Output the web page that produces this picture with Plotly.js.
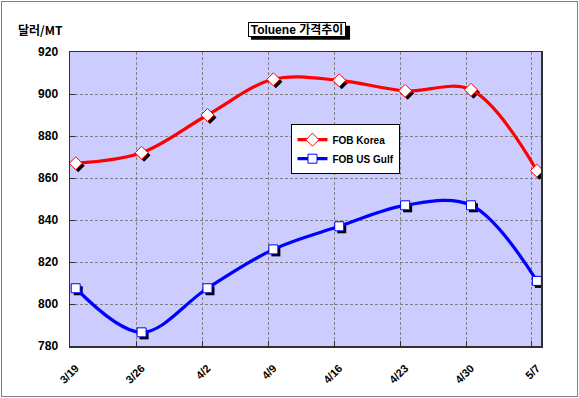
<!DOCTYPE html>
<html><head><meta charset="utf-8">
<script src="https://cdn.plot.ly/plotly-3.0.1.min.js"></script>
<style>
html,body{margin:0;padding:0;background:#fff;}
#wrap{position:relative;width:579px;height:398px;}
#chart{width:579px;height:398px;}
#frame{position:absolute;left:1px;top:1px;width:575px;height:394px;border:1px solid #808080;pointer-events:none;}
</style></head>
<body><div id="wrap"><div id="chart"></div><div id="frame"></div></div>
<script>
const categories = ['3/19','3/26','4/2','4/9','4/16','4/23','4/30','5/7'];
const fobKorea = [867, 872, 890, 907, 906.5, 901.5, 902, 863.5];
const fobUSGulf = [807.5, 786.5, 807.5, 826, 837, 847, 847, 811];
const seriesNames = ['FOB Korea', 'FOB US Gulf'];
const titleText = 'Toluene 가격추이';
const yTitle = '달러/MT';

const FONT = 'Arial, "Liberation Sans", "Noto Sans CJK KR", sans-serif';
const L = 70.3, R = 540.7, T = 52.3, B = 346.3, W = 579, H = 398;
const pxPerCat = 65.8;
const firstPx = 76 - L;
const xr0 = -firstPx / pxPerCat;
const xr1 = xr0 + (R - L) / pxPerCat;
const yr = [780, 920];
const pxPerY = (B - T) / (yr[1] - yr[0]);
const sh = 2.5;      // marker shadow offset, px
const gridShift = 5; // vertical gridlines sit ~5px left of the markers
const px2x = p => (p - L) / (R - L);
const px2y = p => (B - p) / (B - T);
const GRIDDASH = '3px,2px';

const idx = categories.map((c, i) => i);
// base x axis is shifted for the shadows; gridline positions expressed in its units
const gridVals = idx.map(i => i - (gridShift + sh) / pxPerCat);

const traces = [
  // marker shadows on the base axes (ranges shifted so they fall down-right)
  {x: idx, y: fobKorea, xaxis: 'x', yaxis: 'y', mode: 'markers', showlegend: false, hoverinfo: 'skip',
   marker: {symbol: 'diamond', size: 10, color: '#000', line: {width: 0}}},
  {x: idx, y: fobUSGulf, xaxis: 'x', yaxis: 'y', mode: 'markers', showlegend: false, hoverinfo: 'skip',
   marker: {symbol: 'square', size: 9, color: '#000', line: {width: 0}}},
  {x: idx, y: fobKorea, xaxis: 'x2', yaxis: 'y2', name: seriesNames[0], mode: 'lines+markers',
   line: {color: '#FF0000', width: 3.2, shape: 'spline', smoothing: 1},
   marker: {symbol: 'diamond', size: 10, color: '#FFFFFF', line: {color: '#FF0000', width: 1}}},
  {x: idx, y: fobUSGulf, xaxis: 'x2', yaxis: 'y2', name: seriesNames[1], mode: 'lines+markers',
   line: {color: '#0000FF', width: 3.2, shape: 'spline', smoothing: 1},
   marker: {symbol: 'square', size: 9, color: '#FFFFFF', line: {color: '#0000FF', width: 1}}},
];

const layout = {
  width: W, height: H,
  margin: {l: L, r: W - R, t: T, b: H - B, pad: 0},
  paper_bgcolor: '#FFFFFF',
  plot_bgcolor: '#CCCCFF',
  font: {family: FONT, size: 11, color: '#000'},
  showlegend: true,
  legend: {x: px2x(291.5), y: px2y(124.5), xanchor: 'left', yanchor: 'top',
           bgcolor: '#FFFFFF', bordercolor: '#000000', borderwidth: 1,
           font: {family: FONT, size: 10, color: '#000', weight: 'bold'},
           tracegroupgap: 0},
  // base axes: shadow markers + vertical gridlines
  xaxis: {range: [xr0 - sh / pxPerCat, xr1 - sh / pxPerCat],
          tickvals: gridVals, showticklabels: false,
          ticks: 'inside', ticklen: 5, tickcolor: '#303030', tickwidth: 1,
          showgrid: true, gridcolor: '#808080', griddash: GRIDDASH, gridwidth: 1,
          zeroline: false, showline: false},
  yaxis: {range: [yr[0] + sh / pxPerY, yr[1] + sh / pxPerY], visible: false},
  // visible axes of the real series
  xaxis2: {
    overlaying: 'x', type: 'linear', range: [xr0, xr1],
    tickvals: idx, ticktext: categories, tickangle: -45,
    tickfont: {family: FONT, size: 11, color: '#000', weight: 'bold'},
    showgrid: false, zeroline: false, ticks: '',
    showline: true, linecolor: '#303030', linewidth: 1.5, mirror: true,
    ticklabelstandoff: 10
  },
  yaxis2: {
    overlaying: 'y', range: yr, dtick: 20, tick0: 780,
    tickfont: {family: FONT, size: 12, color: '#000', weight: 'bold'},
    showgrid: true, gridcolor: '#808080', griddash: GRIDDASH, gridwidth: 1,
    zeroline: false, ticks: 'inside', ticklen: 5, tickcolor: '#303030', tickwidth: 1,
    showline: true, linecolor: '#303030', linewidth: 1.5, mirror: true,
    ticklabelstandoff: 8
  },
  shapes: [
    {type: 'rect', xref: 'paper', yref: 'paper', layer: 'above',
     x0: px2x(251), x1: px2x(350), y0: px2y(40), y1: px2y(26),
     fillcolor: '#000', line: {width: 0}}
  ],
  annotations: [
    {text: yTitle, xref: 'paper', yref: 'paper', x: px2x(16), y: px2y(30),
     xanchor: 'left', yanchor: 'middle', showarrow: false,
     font: {family: '"Noto Sans CJK KR", Arial, sans-serif', size: 12, color: '#000', weight: 'bold'}},
    {text: titleText, xref: 'paper', yref: 'paper', x: px2x(297.5), y: px2y(30),
     xanchor: 'center', yanchor: 'middle', showarrow: false,
     width: 95, height: 12, align: 'center',
     bgcolor: '#FFF', bordercolor: '#000', borderwidth: 1, borderpad: 0.5,
     font: {family: FONT, size: 12, color: '#000', weight: 'bold'}}
  ]
};

Plotly.newPlot('chart', traces, layout, {displayModeBar: false, staticPlot: true});
</script></body></html>
